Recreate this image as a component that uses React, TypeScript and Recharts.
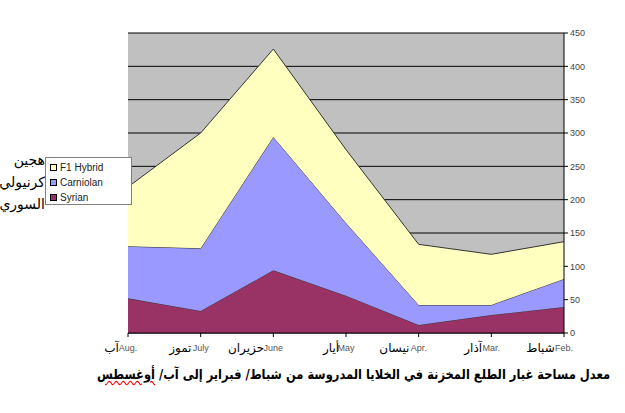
import { AreaChart, Area, XAxis, YAxis, CartesianGrid } from 'recharts';

// months, Feb -> Aug (axis is reversed so Aug sits on the left)
const MONTHS = ['Feb.', 'Mar.', 'Apr.', 'May', 'June', 'July', 'Aug.'];
const MONTHS_AR = ['شباط', 'آذار', 'نيسان', 'أيار', 'حزيران', 'تموز', 'آب'];

const SYRIAN = [39, 27, 12, 56, 94, 33, 52];
const CARNIOLAN = [42, 15, 30, 109, 200, 94, 78];
const F1_HYBRID = [56, 76, 91, 110, 132, 173, 89];

const Y_TICKS = [0, 50, 100, 150, 200, 250, 300, 350, 400, 450];

const SERIES = [
  { key: 'syrian', name: 'Syrian', color: '#993366' },
  { key: 'carniolan', name: 'Carniolan', color: '#9999FF' },
  { key: 'f1', name: 'F1 Hybrid', color: '#FFFFC0' },
];

const LEGEND_AR = ['هجين', 'كرنيولي', 'السوري'];

const TITLE = 'معدل مساحة غبار الطلع المخزنة في الخلايا المدروسة من شباط/ فبراير إلى آب/';
const TITLE_LAST = 'أوغسطس';

const data = MONTHS.map((m, i) => ({
  month: m,
  ar: MONTHS_AR[i],
  syrian: SYRIAN[i],
  carniolan: CARNIOLAN[i],
  f1: F1_HYBRID[i],
}));

const MonthTick = (props: any) => {
  const { x, y, payload, index } = props;
  const en = payload.value as string;
  const half = en.length * 2.3;
  const ar = data.find((d) => d.month === en)?.ar ?? MONTHS_AR[index];
  return (
    <g>
      <text x={x} y={y + 12} textAnchor="middle" fontSize={9} fill="#555" fontFamily="Liberation Sans, Arial, sans-serif">
        {en}
      </text>
      <text x={x - half} y={y + 13} textAnchor="end" fontSize={12} fill="#000" fontFamily="DejaVu Sans, sans-serif">
        {ar}
      </text>
    </g>
  );
};

export default function App() {
  return (
    <div style={{ position: 'absolute', left: 0, top: 0, width: 625, height: 413, background: '#fff', overflow: 'hidden' }}>
      <AreaChart
        width={625}
        height={413}
        data={data}
        margin={{ top: 33, right: 21, left: 128, bottom: 52 }}
      >
        <CartesianGrid vertical={false} stroke="#000" fill="#C0C0C0" fillOpacity={1} />
        <XAxis
          dataKey="month"
          reversed
          height={28}
          axisLine={{ stroke: '#000' }}
          tickLine={{ stroke: '#000' }}
          tickSize={4}
          tick={<MonthTick />}
          interval={0}
        />
        <YAxis
          orientation="right"
          width={40}
          domain={[0, 450]}
          ticks={Y_TICKS}
          interval={0}
          axisLine={{ stroke: '#000' }}
          tickLine={{ stroke: '#000' }}
          tickSize={4}
          tick={{ fontSize: 9, fill: '#444', fontFamily: 'Liberation Sans, Arial, sans-serif', textAnchor: 'start' }}
        />
        {SERIES.map((s) => (
          <Area
            key={s.key}
            type="linear"
            dataKey={s.key}
            name={s.name}
            stackId="a"
            stroke="#333"
            strokeWidth={1}
            fill={s.color}
            fillOpacity={1}
            isAnimationActive={false}
          />
        ))}
      </AreaChart>

      {/* legend box */}
      <div
        style={{
          position: 'absolute', left: 45, top: 157, width: 87, height: 48,
          border: '1px solid #808080', background: '#fff', boxSizing: 'border-box',
          fontFamily: 'Liberation Sans, Arial, sans-serif', fontSize: 10, color: '#222',
        }}
      >
        {[...SERIES].reverse().map((s, i) => (
          <div key={s.key} style={{ position: 'absolute', left: 4, top: 2 + i * 15, display: 'flex', alignItems: 'center', height: 14 }}>
            <span style={{ width: 5, height: 5, border: '1px solid #000', background: s.color, marginRight: 3, display: 'inline-block' }}></span>
            {s.name}
          </div>
        ))}
      </div>

      {/* arabic legend labels */}
      {LEGEND_AR.map((t, i) => (
        <div
          key={t}
          style={{
            position: 'absolute', right: 625 - 45, top: 152 + i * 22, direction: 'rtl',
            fontFamily: 'DejaVu Sans, sans-serif', fontSize: 14, color: '#000', whiteSpace: 'nowrap',
          }}
        >
          {t}
        </div>
      ))}

      {/* title */}
      <div
        style={{
          position: 'absolute', left: 100, width: 510, top: 367, textAlign: 'center', direction: 'rtl',
          fontFamily: 'DejaVu Sans, sans-serif', fontWeight: 'bold', fontSize: 11.5, color: '#000', whiteSpace: 'nowrap',
          transform: 'scaleY(1.2)',
        }}
      >
        {TITLE}{' '}
        <span style={{ textDecoration: 'underline wavy red', textDecorationThickness: 1 }}>{TITLE_LAST}</span>
      </div>
    </div>
  );
}
